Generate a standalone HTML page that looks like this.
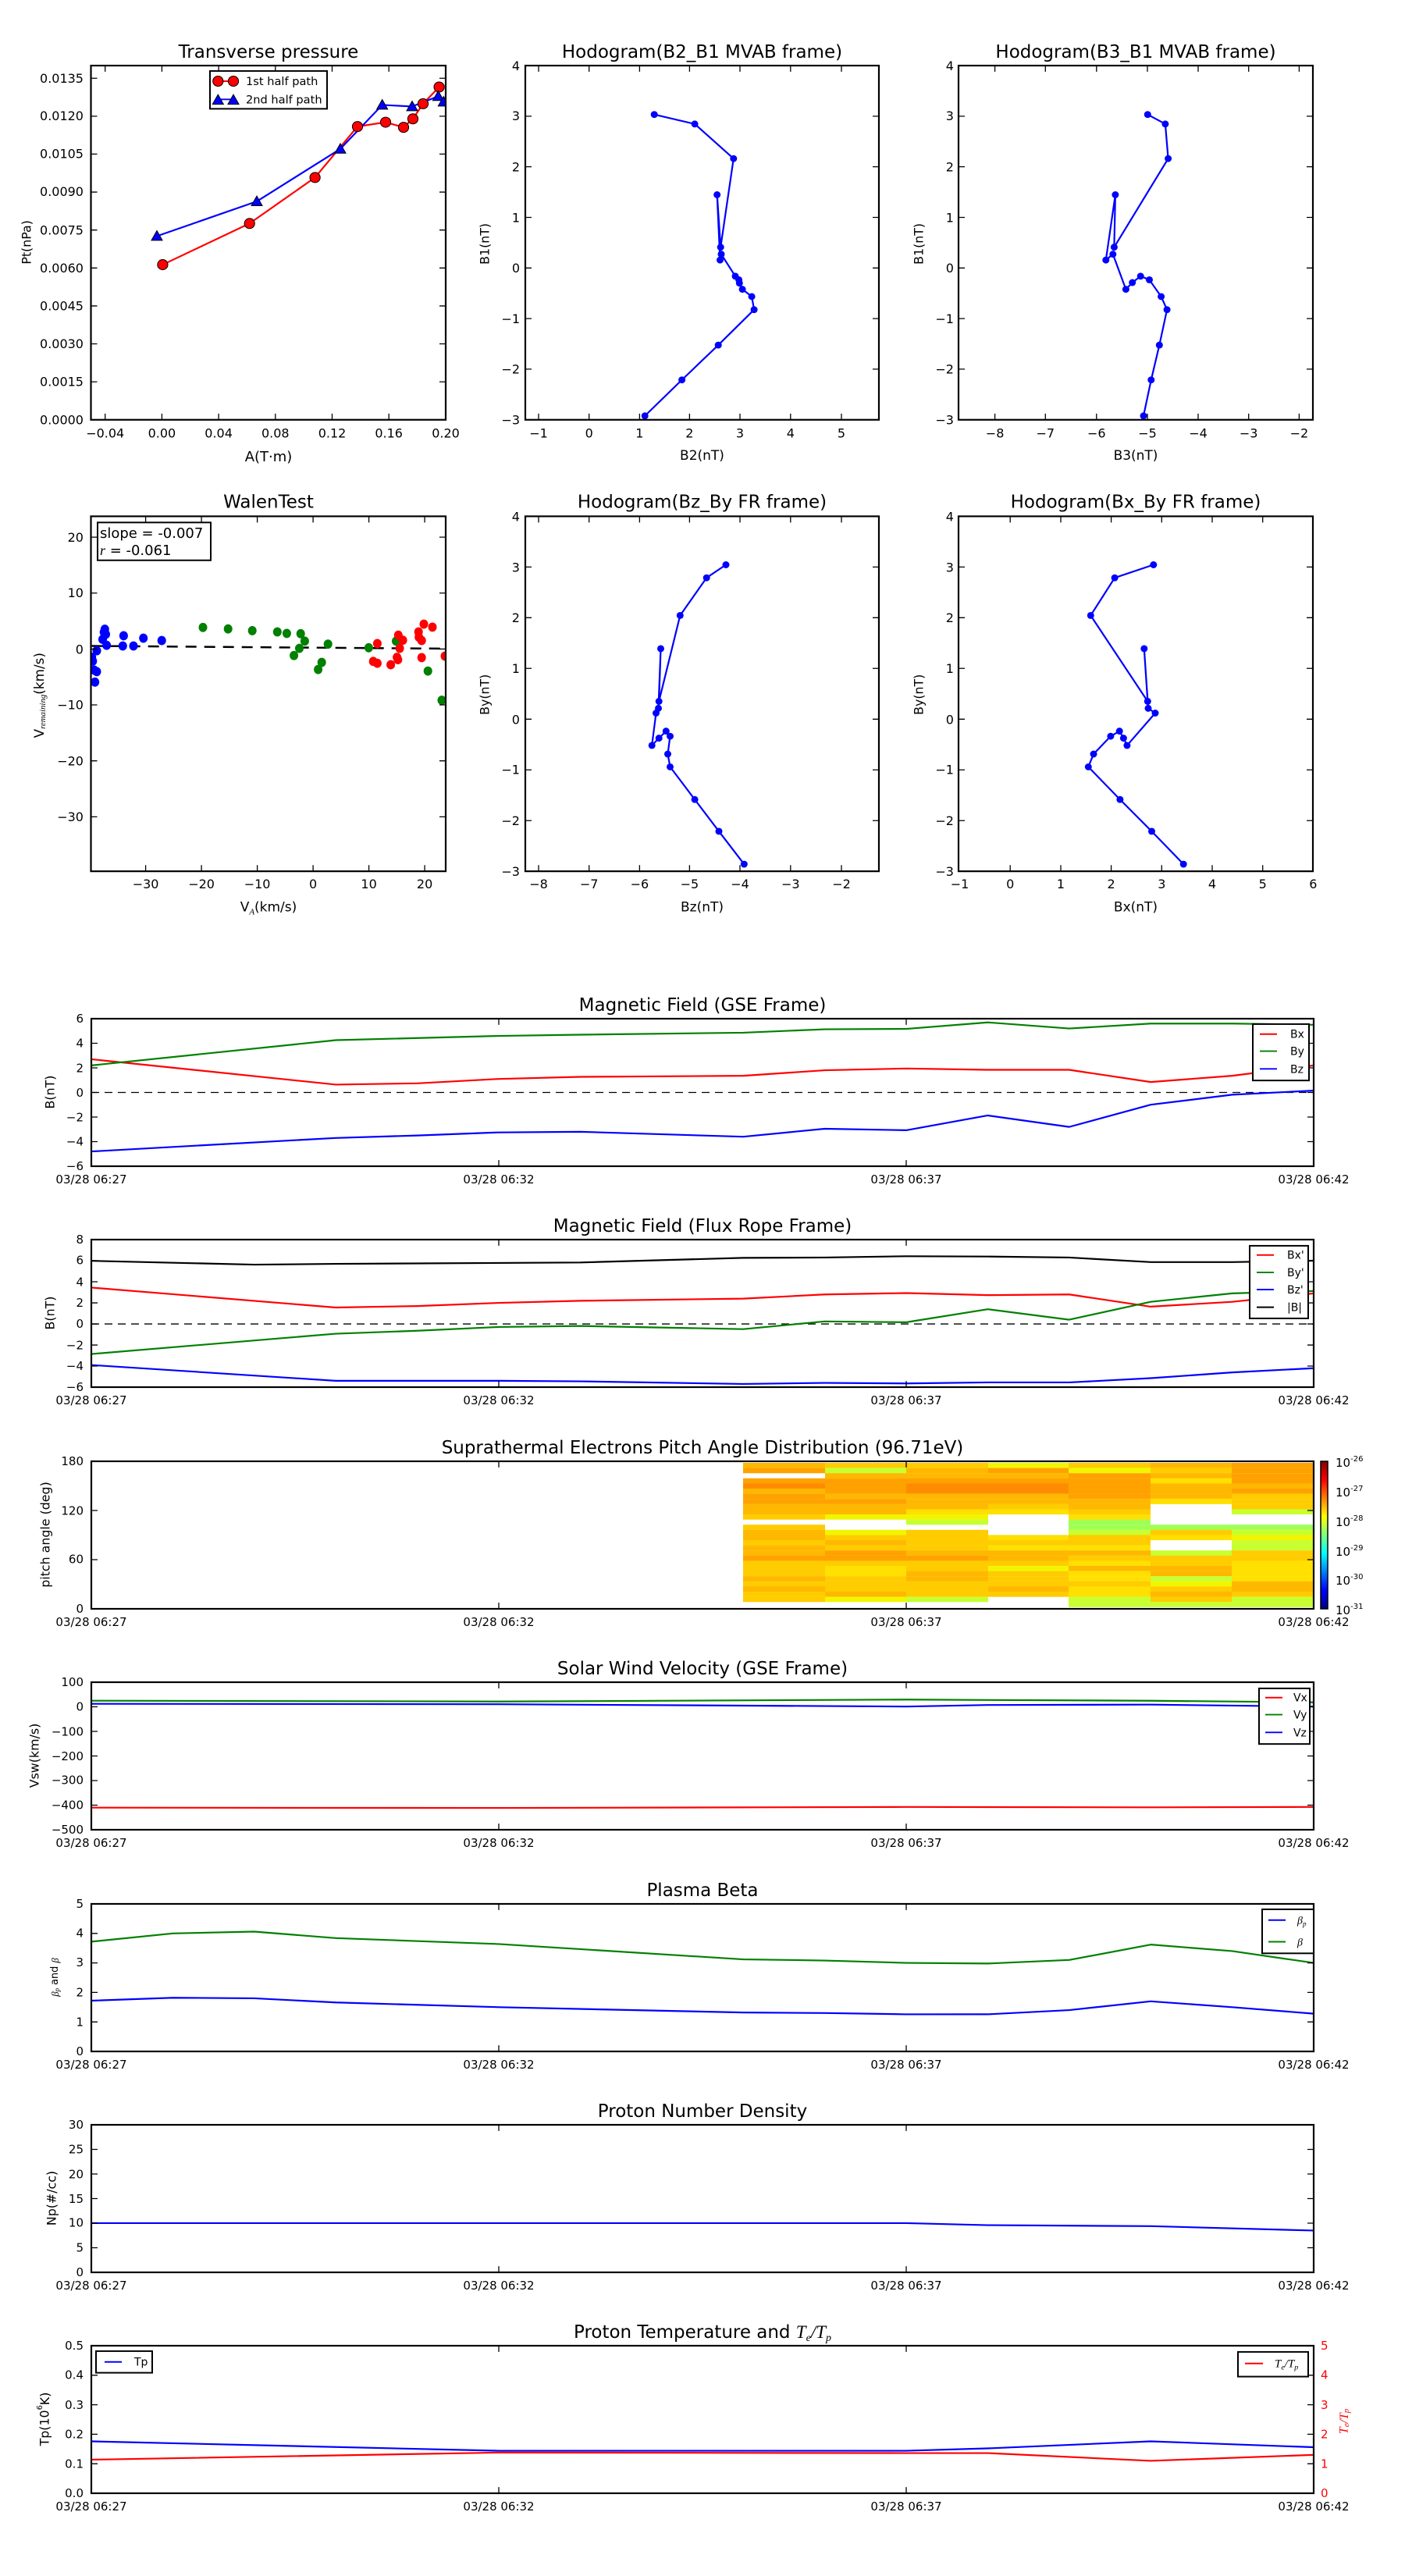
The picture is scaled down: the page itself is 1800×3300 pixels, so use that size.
<!DOCTYPE html>
<html><head><meta charset="utf-8"><style>
html,body{margin:0;padding:0;background:#fff;}
svg{display:block;font-family:"DejaVu Sans","Liberation Sans",sans-serif;}
.sp{fill:none;stroke:#000;stroke-width:2.2}
.tk{fill:none;stroke:#000;stroke-width:1.3}
.t{font-size:23px;text-anchor:middle}
.tl{font-size:16px}
.ts{font-size:15px}
.m{text-anchor:middle}
.e{text-anchor:end}
.ln{fill:none;stroke-width:2.2;stroke-linejoin:round}
.hm rect{width:105px;height:6.7px}
.a{fill:#ff8c00}.b{fill:#ffa200}.c{fill:#ffb800}.d{fill:#ffcc00}.e2{fill:#ffe000}.f{fill:#f2f500}.g{fill:#c8ff30}.h{fill:#a0ff55}
</style></head><body>
<svg width="1800" height="3300" viewBox="0 0 1800 3300" xmlns="http://www.w3.org/2000/svg">
<defs>
<path id="tri" d="M-7,5.5 L7,5.5 L0,-7 Z" fill="#0000ff" stroke="#000" stroke-width="1"/>
<clipPath id="cw"><rect x="116.5" y="662" width="454.5" height="460"/></clipPath>
<clipPath id="c1"><rect x="116.5" y="85" width="454.5" height="459"/></clipPath>
<linearGradient id="jet" x1="0" y1="1" x2="0" y2="0">
<stop offset="0" stop-color="#000080"/><stop offset="0.125" stop-color="#0000ff"/><stop offset="0.375" stop-color="#00ffff"/><stop offset="0.625" stop-color="#ffff00"/><stop offset="0.875" stop-color="#ff0000"/><stop offset="1" stop-color="#800000"/>
</linearGradient>
</defs>
<rect width="1800" height="3300" fill="#fff"/>

<!-- ROW 1 -->
<g transform="matrix(1,0,0,0.98853,0,0)">
<!-- Transverse pressure -->
<text class="t" x="344" y="75">Transverse pressure</text>
<g clip-path="url(#c1)">
<polyline class="ln" stroke="#ff0000" points="208.4,343 319.7,289.6 403.6,230 458,164 494,158.4 517,165 529,154 542,134.4 562.6,112.8"/>
<polyline class="ln" stroke="#0000ff" points="201,306 329,261 436,193 489.7,136 528,138 561.4,124.8 568.3,132"/>
<g fill="#ff0000" stroke="#000" stroke-width="1">
<circle cx="208.4" cy="343" r="6.6"/><circle cx="319.7" cy="289.6" r="6.6"/><circle cx="403.6" cy="230" r="6.6"/><circle cx="458" cy="164" r="6.6"/><circle cx="494" cy="158.4" r="6.6"/><circle cx="517" cy="165" r="6.6"/><circle cx="529" cy="154" r="6.6"/><circle cx="542" cy="134.4" r="6.6"/><circle cx="562.6" cy="112.8" r="6.6"/>
</g>
<use href="#tri" x="201" y="306"/><use href="#tri" x="329" y="261"/><use href="#tri" x="436" y="193"/><use href="#tri" x="489.7" y="136"/><use href="#tri" x="528" y="138"/><use href="#tri" x="561.4" y="124.8"/><use href="#tri" x="568.3" y="132"/>
</g>
<rect class="sp" x="116.5" y="85" width="454.5" height="459"/>
<path class="tk" d="M134.7 544v-8M207.4 544v-8M280.1 544v-8M352.8 544v-8M425.5 544v-8M498.2 544v-8M134.7 85v8M207.4 85v8M280.1 85v8M352.8 85v8M425.5 85v8M498.2 85v8M116.5 101.4h8M116.5 150.6h8M116.5 199.7h8M116.5 248.9h8M116.5 298.1h8M116.5 347.3h8M116.5 396.5h8M116.5 445.6h8M116.5 494.8h8M571 101.4h-8M571 150.6h-8M571 199.7h-8M571 248.9h-8M571 298.1h-8M571 347.3h-8M571 396.5h-8M571 445.6h-8M571 494.8h-8"/>
<g class="tl e">
<text x="107" y="107">0.0135</text><text x="107" y="156">0.0120</text><text x="107" y="205">0.0105</text><text x="107" y="254">0.0090</text><text x="107" y="304">0.0075</text><text x="107" y="353">0.0060</text><text x="107" y="402">0.0045</text><text x="107" y="451">0.0030</text><text x="107" y="500">0.0015</text><text x="107" y="550">0.0000</text>
</g>
<g class="tl m">
<text x="134.7" y="567">−0.04</text><text x="207.4" y="567">0.00</text><text x="280.1" y="567">0.04</text><text x="352.8" y="567">0.08</text><text x="425.5" y="567">0.12</text><text x="498.2" y="567">0.16</text><text x="571" y="567">0.20</text>
<text x="344" y="598" font-size="18">A(T·m)</text>
</g>
<text class="tl m" transform="translate(34,314) rotate(-90)" dominant-baseline="central">Pt(nPa)</text>
<rect x="269" y="92" width="150" height="49" fill="#fff" stroke="#000" stroke-width="2"/>
<line x1="279.3" y1="105.2" x2="299" y2="105.2" stroke="#ff0000" stroke-width="2"/>
<circle cx="279.3" cy="105.2" r="6.6" fill="#ff0000" stroke="#000"/><circle cx="299" cy="105.2" r="6.6" fill="#ff0000" stroke="#000"/>
<text x="315" y="110.5" font-size="14.6">1st half path</text>
<line x1="279.3" y1="128.8" x2="299" y2="128.8" stroke="#0000ff" stroke-width="2"/>
<use href="#tri" x="279.3" y="129.5"/><use href="#tri" x="299" y="129.5"/>
<text x="315" y="134" font-size="14.6">2nd half path</text>

<!-- Hodogram B2_B1 -->
<text class="t" x="899.5" y="75">Hodogram(B2_B1 MVAB frame)</text>
<polyline class="ln" stroke="#0000ff" stroke-width="2" points="826.2,538.9 873.6,492.3 920.2,447.2 966.1,401.3 963.1,384.3 951.1,374.9 947.3,367 946.6,362.6 942,357.9 924,329.4 922.5,337 918.7,252.4 923.2,320.3 939.8,205.5 890.1,160.7 838.2,148.4"/>
<g fill="#0000ff">
<circle cx="826.2" cy="538.9" r="4.5"/><circle cx="873.6" cy="492.3" r="4.5"/><circle cx="920.2" cy="447.2" r="4.5"/><circle cx="966.1" cy="401.3" r="4.5"/><circle cx="963.1" cy="384.3" r="4.5"/><circle cx="951.1" cy="374.9" r="4.5"/><circle cx="947.3" cy="367" r="4.5"/><circle cx="946.6" cy="362.6" r="4.5"/><circle cx="942" cy="357.9" r="4.5"/><circle cx="922.5" cy="337" r="4.5"/><circle cx="924" cy="329.4" r="4.5"/><circle cx="918.7" cy="252.4" r="4.5"/><circle cx="923.2" cy="320.3" r="4.5"/><circle cx="939.8" cy="205.5" r="4.5"/><circle cx="890.1" cy="160.7" r="4.5"/><circle cx="838.2" cy="148.4" r="4.5"/>
</g>
<rect class="sp" x="673" y="85" width="453" height="459"/>
<path class="tk" d="M690 544v-8M754.7 544v-8M819.4 544v-8M883.4 544v-8M948 544v-8M1012.8 544v-8M1078 544v-8M690 85v8M754.7 85v8M819.4 85v8M883.4 85v8M948 85v8M1012.8 85v8M1078 85v8M673 150.6h8M673 216.1h8M673 281.7h8M673 347.3h8M673 412.9h8M673 478.4h8M1126 150.6h-8M1126 216.1h-8M1126 281.7h-8M1126 347.3h-8M1126 412.9h-8M1126 478.4h-8"/>
<g class="tl e">
<text x="666" y="91">4</text><text x="666" y="156">3</text><text x="666" y="222">2</text><text x="666" y="288">1</text><text x="666" y="353">0</text><text x="666" y="419">−1</text><text x="666" y="484">−2</text><text x="666" y="550">−3</text>
</g>
<g class="tl m">
<text x="690" y="567">−1</text><text x="754.7" y="567">0</text><text x="819.4" y="567">1</text><text x="883.4" y="567">2</text><text x="948" y="567">3</text><text x="1012.8" y="567">4</text><text x="1078" y="567">5</text>
<text x="899.5" y="596" font-size="17">B2(nT)</text>
</g>
<text class="tl m" transform="translate(621,316) rotate(-90)" dominant-baseline="central">B1(nT)</text>

<!-- Hodogram B3_B1 -->
<text class="t" x="1455" y="75">Hodogram(B3_B1 MVAB frame)</text>
<polyline class="ln" stroke="#0000ff" stroke-width="2" points="1465,538.9 1474.8,492.3 1485.3,447.2 1495.1,401.3 1487.6,384.3 1472.5,362.6 1461.2,357.9 1450.7,366.2 1442.4,374.9 1425.8,329.4 1416.8,337 1428.9,252.4 1427.4,320.3 1496.6,205.5 1492.9,160.7 1470.3,148.4"/>
<g fill="#0000ff">
<circle cx="1465" cy="538.9" r="4.5"/><circle cx="1474.8" cy="492.3" r="4.5"/><circle cx="1485.3" cy="447.2" r="4.5"/><circle cx="1495.1" cy="401.3" r="4.5"/><circle cx="1487.6" cy="384.3" r="4.5"/><circle cx="1472.5" cy="362.6" r="4.5"/><circle cx="1461.2" cy="357.9" r="4.5"/><circle cx="1450.7" cy="366.2" r="4.5"/><circle cx="1442.4" cy="374.9" r="4.5"/><circle cx="1425.8" cy="329.4" r="4.5"/><circle cx="1416.8" cy="337" r="4.5"/><circle cx="1428.9" cy="252.4" r="4.5"/><circle cx="1427.4" cy="320.3" r="4.5"/><circle cx="1496.6" cy="205.5" r="4.5"/><circle cx="1492.9" cy="160.7" r="4.5"/><circle cx="1470.3" cy="148.4" r="4.5"/>
</g>
<rect class="sp" x="1228" y="85" width="454" height="459"/>
<path class="tk" d="M1274.6 544v-8M1339.3 544v-8M1404.8 544v-8M1470 544v-8M1535 544v-8M1599.7 544v-8M1664.4 544v-8M1274.6 85v8M1339.3 85v8M1404.8 85v8M1470 85v8M1535 85v8M1599.7 85v8M1664.4 85v8M1228 150.6h8M1228 216.1h8M1228 281.7h8M1228 347.3h8M1228 412.9h8M1228 478.4h8M1682 150.6h-8M1682 216.1h-8M1682 281.7h-8M1682 347.3h-8M1682 412.9h-8M1682 478.4h-8"/>
<g class="tl e">
<text x="1222" y="91">4</text><text x="1222" y="156">3</text><text x="1222" y="222">2</text><text x="1222" y="288">1</text><text x="1222" y="353">0</text><text x="1222" y="419">−1</text><text x="1222" y="484">−2</text><text x="1222" y="550">−3</text>
</g>
<g class="tl m">
<text x="1274.6" y="567">−8</text><text x="1339.3" y="567">−7</text><text x="1404.8" y="567">−6</text><text x="1470" y="567">−5</text><text x="1535" y="567">−4</text><text x="1599.7" y="567">−3</text><text x="1664.4" y="567">−2</text>
<text x="1455" y="596" font-size="17">B3(nT)</text>
</g>
<text class="tl m" transform="translate(1177,316) rotate(-90)" dominant-baseline="central">B1(nT)</text>
</g>

<!-- ROW 2 -->
<g transform="matrix(1,0,0,0.98855,0,7)">
<!-- Walen -->
<text class="t" x="344" y="651">WalenTest</text>
<g clip-path="url(#cw)">
<line x1="117.7" y1="830" x2="571" y2="833.5" stroke="#000" stroke-width="2.5" stroke-dasharray="14,10"/>
<g fill="#0000ff">
<ellipse cx="117.7" cy="844.7" rx="5.5" ry="6"/><ellipse cx="118.8" cy="849.7" rx="5.5" ry="6"/><ellipse cx="120.6" cy="861.3" rx="5.5" ry="6"/><ellipse cx="124" cy="863.3" rx="5.5" ry="6"/><ellipse cx="121.7" cy="876.8" rx="5.5" ry="6"/><ellipse cx="124" cy="836.2" rx="5.5" ry="6"/><ellipse cx="131.5" cy="821.5" rx="5.5" ry="6"/><ellipse cx="133.2" cy="812.2" rx="5.5" ry="6"/><ellipse cx="134.3" cy="808.3" rx="5.5" ry="6"/><ellipse cx="135.5" cy="814.9" rx="5.5" ry="6"/><ellipse cx="136.6" cy="829.2" rx="5.5" ry="6"/><ellipse cx="158.4" cy="816.8" rx="5.5" ry="6"/><ellipse cx="157.3" cy="830" rx="5.5" ry="6"/><ellipse cx="171" cy="830" rx="5.5" ry="6"/><ellipse cx="183.7" cy="819.9" rx="5.5" ry="6"/><ellipse cx="207.2" cy="823" rx="5.5" ry="6"/>
</g>
<g fill="#008000">
<ellipse cx="260" cy="806" rx="5.5" ry="6"/><ellipse cx="292.2" cy="807.9" rx="5.5" ry="6"/><ellipse cx="323.2" cy="810.2" rx="5.5" ry="6"/><ellipse cx="355.3" cy="811.8" rx="5.5" ry="6"/><ellipse cx="367.4" cy="813.7" rx="5.5" ry="6"/><ellipse cx="385.2" cy="814.1" rx="5.5" ry="6"/><ellipse cx="390.4" cy="823.8" rx="5.5" ry="6"/><ellipse cx="383.5" cy="833.1" rx="5.5" ry="6"/><ellipse cx="376.6" cy="842.4" rx="5.5" ry="6"/><ellipse cx="412.2" cy="851.3" rx="5.5" ry="6"/><ellipse cx="407.6" cy="860.5" rx="5.5" ry="6"/><ellipse cx="420.2" cy="827.6" rx="5.5" ry="6"/><ellipse cx="472.4" cy="832.3" rx="5.5" ry="6"/><ellipse cx="507.5" cy="823.8" rx="5.5" ry="6"/><ellipse cx="548.2" cy="862.5" rx="5.5" ry="6"/><ellipse cx="566" cy="900.4" rx="5.5" ry="6"/>
</g>
<g fill="#ff0000">
<ellipse cx="483.4" cy="826.9" rx="5.5" ry="6"/><ellipse cx="478.2" cy="850.1" rx="5.5" ry="6"/><ellipse cx="483.4" cy="852.4" rx="5.5" ry="6"/><ellipse cx="500.6" cy="854.4" rx="5.5" ry="6"/><ellipse cx="510.3" cy="816" rx="5.5" ry="6"/><ellipse cx="516.1" cy="822.6" rx="5.5" ry="6"/><ellipse cx="512.1" cy="833.1" rx="5.5" ry="6"/><ellipse cx="508.6" cy="844.7" rx="5.5" ry="6"/><ellipse cx="509.8" cy="847.8" rx="5.5" ry="6"/><ellipse cx="536.2" cy="811.8" rx="5.5" ry="6"/><ellipse cx="536.7" cy="818.7" rx="5.5" ry="6"/><ellipse cx="540.2" cy="823" rx="5.5" ry="6"/><ellipse cx="543" cy="801.7" rx="5.5" ry="6"/><ellipse cx="554" cy="805.6" rx="5.5" ry="6"/><ellipse cx="540.2" cy="845.1" rx="5.5" ry="6"/><ellipse cx="570" cy="843.2" rx="5.5" ry="6"/>
</g>
</g>
<rect class="sp" x="116.5" y="662" width="454.5" height="460"/>
<path class="tk" d="M186.6 1122v-8M258.1 1122v-8M329.6 1122v-8M401.1 1122v-8M472.6 1122v-8M544.1 1122v-8M186.6 662v8M258.1 662v8M329.6 662v8M401.1 662v8M472.6 662v8M544.1 662v8M116.5 689h8M116.5 761.5h8M116.5 834h8M116.5 906.4h8M116.5 978.9h8M116.5 1051.4h8M571 689h-8M571 761.5h-8M571 834h-8M571 906.4h-8M571 978.9h-8M571 1051.4h-8"/>
<g class="tl e">
<text x="107" y="695">20</text><text x="107" y="767">10</text><text x="107" y="840">0</text><text x="107" y="912">−10</text><text x="107" y="985">−20</text><text x="107" y="1057">−30</text>
</g>
<g class="tl m">
<text x="186.6" y="1144">−30</text><text x="258.1" y="1144">−20</text><text x="329.6" y="1144">−10</text><text x="401.1" y="1144">0</text><text x="472.6" y="1144">10</text><text x="544.1" y="1144">20</text>
<text x="344" y="1174" font-size="17">V<tspan font-size="11" font-style="italic" font-family="Liberation Serif,serif" dy="4">A</tspan><tspan dy="-4">(km/s)</tspan></text>
</g>
<text class="m" font-size="17" transform="translate(50,894) rotate(-90)" dominant-baseline="central">V<tspan font-size="11" font-style="italic" font-family="Liberation Serif,serif" dy="5">remaining</tspan><tspan dy="-5">(km/s)</tspan></text>
<rect x="125" y="670" width="145" height="49" fill="#fff" stroke="#000" stroke-width="2"/>
<text x="128" y="690" font-size="18">slope = -0.007</text>
<text x="128" y="712" font-size="18"><tspan font-style="italic" font-family="Liberation Serif,serif">r</tspan> = -0.061</text>

<!-- Hodogram Bz_By -->
<text class="t" x="899.5" y="651">Hodogram(Bz_By FR frame)</text>
<polyline class="ln" stroke="#0000ff" stroke-width="2" points="953.3,1112.8 921,1070.2 890.1,1029 858.5,986.7 855.5,970.1 858.5,947 853.3,940.4 844.2,949.5 835.2,958.9 840.5,917 843.5,910.8 846.5,833.5 844.2,901.8 871.3,790.5 905.2,741.7 930,724.8"/>
<g fill="#0000ff">
<circle cx="953.3" cy="1112.8" r="4.5"/><circle cx="921" cy="1070.2" r="4.5"/><circle cx="890.1" cy="1029" r="4.5"/><circle cx="858.5" cy="986.7" r="4.5"/><circle cx="855.5" cy="970.1" r="4.5"/><circle cx="858.5" cy="947" r="4.5"/><circle cx="853.3" cy="940.4" r="4.5"/><circle cx="844.2" cy="949.5" r="4.5"/><circle cx="835.2" cy="958.9" r="4.5"/><circle cx="840.5" cy="917" r="4.5"/><circle cx="843.5" cy="910.8" r="4.5"/><circle cx="846.5" cy="833.5" r="4.5"/><circle cx="844.2" cy="901.8" r="4.5"/><circle cx="871.3" cy="790.5" r="4.5"/><circle cx="905.2" cy="741.7" r="4.5"/><circle cx="930" cy="724.8" r="4.5"/>
</g>
<rect class="sp" x="673" y="662" width="453" height="460"/>
<path class="tk" d="M690 1122v-8M754.7 1122v-8M819.4 1122v-8M883.4 1122v-8M948 1122v-8M1012.8 1122v-8M1078 1122v-8M690 662v8M754.7 662v8M819.4 662v8M883.4 662v8M948 662v8M1012.8 662v8M1078 662v8M673 727.7h8M673 793.4h8M673 859.1h8M673 924.9h8M673 990.6h8M673 1056.3h8M1126 727.7h-8M1126 793.4h-8M1126 859.1h-8M1126 924.9h-8M1126 990.6h-8M1126 1056.3h-8"/>
<g class="tl e">
<text x="666" y="668">4</text><text x="666" y="734">3</text><text x="666" y="799">2</text><text x="666" y="865">1</text><text x="666" y="931">0</text><text x="666" y="996">−1</text><text x="666" y="1062">−2</text><text x="666" y="1128">−3</text>
</g>
<g class="tl m">
<text x="690" y="1144">−8</text><text x="754.7" y="1144">−7</text><text x="819.4" y="1144">−6</text><text x="883.4" y="1144">−5</text><text x="948" y="1144">−4</text><text x="1012.8" y="1144">−3</text><text x="1078" y="1144">−2</text>
<text x="899.5" y="1174" font-size="17">Bz(nT)</text>
</g>
<text class="tl m" transform="translate(621,893) rotate(-90)" dominant-baseline="central">By(nT)</text>

<!-- Hodogram Bx_By -->
<text class="t" x="1455" y="651">Hodogram(Bx_By FR frame)</text>
<polyline class="ln" stroke="#0000ff" stroke-width="2" points="1516.2,1112.8 1475.5,1070.2 1434.9,1029 1394.3,986.7 1401,970.1 1422.9,947 1434.2,940.4 1439.4,949.5 1443.9,958.9 1480,917 1471,910.8 1465.8,833.5 1470.3,901.8 1397.3,790.5 1428.1,741.7 1477.8,724.8"/>
<g fill="#0000ff">
<circle cx="1516.2" cy="1112.8" r="4.5"/><circle cx="1475.5" cy="1070.2" r="4.5"/><circle cx="1434.9" cy="1029" r="4.5"/><circle cx="1394.3" cy="986.7" r="4.5"/><circle cx="1401" cy="970.1" r="4.5"/><circle cx="1422.9" cy="947" r="4.5"/><circle cx="1434.2" cy="940.4" r="4.5"/><circle cx="1439.4" cy="949.5" r="4.5"/><circle cx="1443.9" cy="958.9" r="4.5"/><circle cx="1480" cy="917" r="4.5"/><circle cx="1471" cy="910.8" r="4.5"/><circle cx="1465.8" cy="833.5" r="4.5"/><circle cx="1470.3" cy="901.8" r="4.5"/><circle cx="1397.3" cy="790.5" r="4.5"/><circle cx="1428.1" cy="741.7" r="4.5"/><circle cx="1477.8" cy="724.8" r="4.5"/>
</g>
<rect class="sp" x="1228" y="662" width="454" height="460"/>
<path class="tk" d="M1294.2 1122v-8M1359 1122v-8M1423.6 1122v-8M1488.3 1122v-8M1553 1122v-8M1617.7 1122v-8M1294.2 662v8M1359 662v8M1423.6 662v8M1488.3 662v8M1553 662v8M1617.7 662v8M1228 727.7h8M1228 793.4h8M1228 859.1h8M1228 924.9h8M1228 990.6h8M1228 1056.3h8M1682 727.7h-8M1682 793.4h-8M1682 859.1h-8M1682 924.9h-8M1682 990.6h-8M1682 1056.3h-8"/>
<g class="tl e">
<text x="1222" y="668">4</text><text x="1222" y="734">3</text><text x="1222" y="799">2</text><text x="1222" y="865">1</text><text x="1222" y="931">0</text><text x="1222" y="996">−1</text><text x="1222" y="1062">−2</text><text x="1222" y="1128">−3</text>
</g>
<g class="tl m">
<text x="1229.5" y="1144">−1</text><text x="1294.2" y="1144">0</text><text x="1359" y="1144">1</text><text x="1423.6" y="1144">2</text><text x="1488.3" y="1144">3</text><text x="1553" y="1144">4</text><text x="1617.7" y="1144">5</text><text x="1682.4" y="1144">6</text>
<text x="1455" y="1174" font-size="17">Bx(nT)</text>
</g>
<text class="tl m" transform="translate(1177,893) rotate(-90)" dominant-baseline="central">By(nT)</text>
</g>

<!-- GSE -->
<g transform="matrix(1,0,0,0.98953,0,13.66)">
<text class="t" x="900" y="1295">Magnetic Field (GSE Frame)</text>
<line x1="117" y1="1400.5" x2="1683" y2="1400.5" stroke="#000" stroke-width="1.3" stroke-dasharray="10,7"/>
<polyline class="ln" stroke="#ff0000" points="117,1357.5 430.2,1390.3 534.6,1388.7 639,1383 743.4,1380.3 952.2,1378.9 1056.6,1371.8 1161,1369.5 1265.4,1371.2 1369.8,1371.2 1474.2,1387 1578.6,1378.9 1683,1365.5"/>
<polyline class="ln" stroke="#008000" points="117,1365.5 430.2,1332.8 639,1327.3 743.4,1325.7 952.2,1323.1 1056.6,1318.7 1161,1318.2 1265.4,1309.8 1369.8,1317.7 1474.2,1311.3 1578.6,1311.3 1683,1312.9"/>
<polyline class="ln" stroke="#0000ff" points="117,1476.9 430.2,1459.4 534.6,1456.2 639,1452.2 743.4,1451.4 952.2,1457.8 1056.6,1447.5 1161,1449.4 1265.4,1430.3 1369.8,1445.1 1474.2,1416.4 1578.6,1403.4 1683,1398.1"/>
<rect class="sp" x="117" y="1305" width="1566" height="191"/>
<path class="tk" d="M639 1496v-8M1161 1496v-8M639 1305v8M1161 1305v8M117 1336.8h8M117 1368.7h8M117 1400.5h8M117 1432.3h8M117 1464.2h8M1683 1336.8h-8M1683 1368.7h-8M1683 1400.5h-8M1683 1432.3h-8M1683 1464.2h-8"/>
<g class="ts e"><text x="107" y="1310">6</text><text x="107" y="1342">4</text><text x="107" y="1374">2</text><text x="107" y="1406">0</text><text x="107" y="1438">−2</text><text x="107" y="1469">−4</text><text x="107" y="1501">−6</text></g>
<g class="ts m"><text x="117" y="1518">03/28 06:27</text><text x="639" y="1518">03/28 06:32</text><text x="1161" y="1518">03/28 06:37</text><text x="1683" y="1518">03/28 06:42</text></g>
<text class="tl m" transform="translate(64,1400) rotate(-90)" dominant-baseline="central">B(nT)</text>
<rect x="1605" y="1312" width="72" height="73" fill="#fff" stroke="#000" stroke-width="2"/>
<line x1="1614" y1="1325" x2="1636" y2="1325" stroke="#ff0000" stroke-width="2"/><text x="1653" y="1330" font-size="14">Bx</text>
<line x1="1614" y1="1347" x2="1636" y2="1347" stroke="#008000" stroke-width="2"/><text x="1653" y="1352" font-size="14">By</text>
<line x1="1614" y1="1370" x2="1636" y2="1370" stroke="#0000ff" stroke-width="2"/><text x="1653" y="1375" font-size="14">Bz</text>
</g>

<!-- FR -->
<g transform="matrix(1,0,0,0.98953,0,12.67)">
<text class="t" x="900" y="1582">Magnetic Field (Flux Rope Frame)</text>
<line x1="117" y1="1701.2" x2="1683" y2="1701.2" stroke="#000" stroke-width="1.3" stroke-dasharray="10,7"/>
<polyline class="ln" stroke="#000" points="117,1619.5 325.8,1624.4 430.2,1623.4 743.4,1621.6 952.2,1615.6 1056.6,1615.2 1161,1613.5 1265.4,1613.9 1369.8,1615.2 1474.2,1621.1 1578.6,1621.1 1683,1619.3"/>
<polyline class="ln" stroke="#ff0000" points="117,1654.1 430.2,1679.9 534.6,1678 639,1673.9 743.4,1671.2 952.2,1668.4 1056.6,1663 1161,1661.2 1265.4,1663.9 1369.8,1663 1474.2,1678.8 1578.6,1672.5 1683,1661.6"/>
<polyline class="ln" stroke="#008000" points="117,1740.1 430.2,1713.8 534.6,1710 639,1705.1 743.4,1703.8 952.2,1707.9 1056.6,1697.9 1161,1699 1265.4,1682.1 1369.8,1695.7 1474.2,1672.5 1578.6,1661.6 1683,1658.5"/>
<polyline class="ln" stroke="#0000ff" points="117,1754.4 430.2,1774.8 639,1774.8 743.4,1775.5 952.2,1778.9 1056.6,1777.5 1161,1778.2 1265.4,1776.9 1369.8,1776.9 1474.2,1771.4 1578.6,1763.9 1683,1758.5"/>
<rect class="sp" x="117" y="1592" width="1566" height="191"/>
<path class="tk" d="M639 1783v-8M1161 1783v-8M639 1592v8M1161 1592v8M117 1619.3h8M117 1646.6h8M117 1673.9h8M117 1701.2h8M117 1728.5h8M117 1755.7h8M1683 1619.3h-8M1683 1646.6h-8M1683 1673.9h-8M1683 1701.2h-8M1683 1728.5h-8M1683 1755.7h-8"/>
<g class="ts e"><text x="107" y="1597">8</text><text x="107" y="1624">6</text><text x="107" y="1652">4</text><text x="107" y="1679">2</text><text x="107" y="1706">0</text><text x="107" y="1734">−2</text><text x="107" y="1761">−4</text><text x="107" y="1788">−6</text></g>
<g class="ts m"><text x="117" y="1805">03/28 06:27</text><text x="639" y="1805">03/28 06:32</text><text x="1161" y="1805">03/28 06:37</text><text x="1683" y="1805">03/28 06:42</text></g>
<text class="tl m" transform="translate(64,1687) rotate(-90)" dominant-baseline="central">B(nT)</text>
<rect x="1601" y="1600" width="75" height="94" fill="#fff" stroke="#000" stroke-width="2"/>
<line x1="1610" y1="1612" x2="1632" y2="1612" stroke="#ff0000" stroke-width="2"/><text x="1649" y="1617" font-size="14">Bx'</text>
<line x1="1610" y1="1634.5" x2="1632" y2="1634.5" stroke="#008000" stroke-width="2"/><text x="1649" y="1639.5" font-size="14">By'</text>
<line x1="1610" y1="1656.7" x2="1632" y2="1656.7" stroke="#0000ff" stroke-width="2"/><text x="1649" y="1661.7" font-size="14">Bz'</text>
<line x1="1610" y1="1679.5" x2="1632" y2="1679.5" stroke="#000" stroke-width="2"/><text x="1649" y="1684.5" font-size="14">|B|</text>
</g>

<!-- PAD heatmap (real coords) -->
<g class="hm">
<g transform="translate(952,0)"><rect y="1874" class="c"/><rect y="1880.6" class="b"/><rect y="1893.8" class="b"/><rect y="1900.4" class="a"/><rect y="1907" class="c"/><rect y="1913.6" class="b"/><rect y="1920.2" class="b"/><rect y="1926.8" class="c"/><rect y="1933.4" class="c"/><rect y="1940" class="d"/><rect y="1953.2" class="d"/><rect y="1959.8" class="c"/><rect y="1966.4" class="c"/><rect y="1973" class="d"/><rect y="1979.6" class="c"/><rect y="1986.2" class="c"/><rect y="1992.8" class="b"/><rect y="1999.4" class="d"/><rect y="2006" class="d"/><rect y="2012.6" class="d"/><rect y="2019.2" class="c"/><rect y="2025.8" class="d"/><rect y="2032.4" class="c"/><rect y="2039" class="d"/><rect y="2045.6" class="d"/></g>
<g transform="translate(1057,0)"><rect y="1874" class="d"/><rect y="1880.6" class="g"/><rect y="1887.2" class="c"/><rect y="1893.8" class="b"/><rect y="1900.4" class="b"/><rect y="1907" class="b"/><rect y="1913.6" class="c"/><rect y="1920.2" class="b"/><rect y="1926.8" class="c"/><rect y="1933.4" class="c"/><rect y="1940" class="f"/><rect y="1959.8" class="f"/><rect y="1966.4" class="d"/><rect y="1973" class="c"/><rect y="1979.6" class="d"/><rect y="1986.2" class="b"/><rect y="1992.8" class="b"/><rect y="1999.4" class="d"/><rect y="2006" class="e2"/><rect y="2012.6" class="e2"/><rect y="2019.2" class="d"/><rect y="2025.8" class="d"/><rect y="2032.4" class="d"/><rect y="2039" class="c"/><rect y="2045.6" class="f"/></g>
<g transform="translate(1161,0)"><rect y="1874" class="d"/><rect y="1880.6" class="c"/><rect y="1887.2" class="c"/><rect y="1893.8" class="b"/><rect y="1900.4" class="a"/><rect y="1907" class="a"/><rect y="1913.6" class="c"/><rect y="1920.2" class="c"/><rect y="1926.8" class="c"/><rect y="1933.4" class="e2"/><rect y="1940" class="f"/><rect y="1946.6" class="g"/><rect y="1959.8" class="d"/><rect y="1966.4" class="d"/><rect y="1973" class="d"/><rect y="1979.6" class="d"/><rect y="1986.2" class="c"/><rect y="1992.8" class="b"/><rect y="1999.4" class="d"/><rect y="2006" class="d"/><rect y="2012.6" class="c"/><rect y="2019.2" class="c"/><rect y="2025.8" class="d"/><rect y="2032.4" class="d"/><rect y="2039" class="d"/><rect y="2045.6" class="g"/></g>
<g transform="translate(1266,0)"><rect y="1874" class="f"/><rect y="1880.6" class="b"/><rect y="1887.2" class="c"/><rect y="1893.8" class="b"/><rect y="1900.4" class="a"/><rect y="1907" class="a"/><rect y="1913.6" class="c"/><rect y="1920.2" class="c"/><rect y="1926.8" class="d"/><rect y="1933.4" class="e2"/><rect y="1966.4" class="e2"/><rect y="1973" class="d"/><rect y="1979.6" class="e2"/><rect y="1986.2" class="c"/><rect y="1992.8" class="c"/><rect y="1999.4" class="d"/><rect y="2006" class="f"/><rect y="2012.6" class="d"/><rect y="2019.2" class="d"/><rect y="2025.8" class="d"/><rect y="2032.4" class="c"/><rect y="2039" class="d"/></g>
<g transform="translate(1369,0)"><rect y="1874" class="d"/><rect y="1880.6" class="f"/><rect y="1887.2" class="b"/><rect y="1893.8" class="b"/><rect y="1900.4" class="b"/><rect y="1907" class="b"/><rect y="1913.6" class="b"/><rect y="1920.2" class="c"/><rect y="1926.8" class="c"/><rect y="1933.4" class="d"/><rect y="1940" class="e2"/><rect y="1946.6" class="h"/><rect y="1953.2" class="h"/><rect y="1959.8" class="g"/><rect y="1966.4" class="d"/><rect y="1973" class="d"/><rect y="1979.6" class="e2"/><rect y="1986.2" class="c"/><rect y="1992.8" class="d"/><rect y="1999.4" class="e2"/><rect y="2006" class="c"/><rect y="2012.6" class="e2"/><rect y="2019.2" class="e2"/><rect y="2025.8" class="d"/><rect y="2032.4" class="e2"/><rect y="2039" class="e2"/><rect y="2045.6" class="g"/><rect y="2052.2" class="g"/></g>
<g transform="translate(1474,0)"><rect y="1874" class="c"/><rect y="1880.6" class="d"/><rect y="1887.2" class="c"/><rect y="1893.8" class="e2"/><rect y="1900.4" class="c"/><rect y="1907" class="c"/><rect y="1913.6" class="c"/><rect y="1920.2" class="e2"/><rect y="1953.2" class="h"/><rect y="1959.8" class="d"/><rect y="1966.4" class="e2"/><rect y="1986.2" class="g"/><rect y="1992.8" class="d"/><rect y="1999.4" class="d"/><rect y="2006" class="c"/><rect y="2012.6" class="c"/><rect y="2019.2" class="g"/><rect y="2025.8" class="f"/><rect y="2032.4" class="d"/><rect y="2039" class="c"/><rect y="2045.6" class="d"/><rect y="2052.2" class="g"/></g>
<g transform="translate(1578,0)"><rect y="1874" class="b" style="width:104px"/><rect y="1880.6" class="b" style="width:104px"/><rect y="1887.2" class="b" style="width:104px"/><rect y="1893.8" class="b" style="width:104px"/><rect y="1900.4" class="c" style="width:104px"/><rect y="1907" class="b" style="width:104px"/><rect y="1913.6" class="d" style="width:104px"/><rect y="1920.2" class="d" style="width:104px"/><rect y="1926.8" class="d" style="width:104px"/><rect y="1933.4" class="g" style="width:104px"/><rect y="1953.2" class="h" style="width:104px"/><rect y="1959.8" class="g" style="width:104px"/><rect y="1966.4" class="f" style="width:104px"/><rect y="1973" class="g" style="width:104px"/><rect y="1979.6" class="g" style="width:104px"/><rect y="1986.2" class="d" style="width:104px"/><rect y="1992.8" class="d" style="width:104px"/><rect y="1999.4" class="e2" style="width:104px"/><rect y="2006" class="e2" style="width:104px"/><rect y="2012.6" class="e2" style="width:104px"/><rect y="2019.2" class="e2" style="width:104px"/><rect y="2025.8" class="c" style="width:104px"/><rect y="2032.4" class="c" style="width:104px"/><rect y="2039" class="d" style="width:104px"/><rect y="2045.6" class="g" style="width:104px"/><rect y="2052.2" class="g" style="width:104px"/></g>
</g>
<rect x="1692" y="1872" width="9" height="189" fill="url(#jet)" stroke="#000" stroke-width="1.5"/>
<g font-size="15">
<text x="1711" y="1879">10<tspan font-size="10" dy="-7">-26</tspan></text>
<text x="1711" y="1917">10<tspan font-size="10" dy="-7">-27</tspan></text>
<text x="1711" y="1955">10<tspan font-size="10" dy="-7">-28</tspan></text>
<text x="1711" y="1993">10<tspan font-size="10" dy="-7">-29</tspan></text>
<text x="1711" y="2030">10<tspan font-size="10" dy="-7">-30</tspan></text>
<text x="1711" y="2068">10<tspan font-size="10" dy="-7">-31</tspan></text>
</g>
<g transform="matrix(1,0,0,0.98953,0,12.67)">
<text class="t" x="900" y="1869">Suprathermal Electrons Pitch Angle Distribution (96.71eV)</text>
<rect class="sp" x="117" y="1879" width="1566" height="191"/>
<path class="tk" d="M639 2070v-8M1161 2070v-8M639 1879v8M1161 1879v8M117 1942.7h8M117 2006.3h8M1683 1942.7h-8M1683 2006.3h-8"/>
<g class="ts e"><text x="107" y="1884">180</text><text x="107" y="1948">120</text><text x="107" y="2011">60</text><text x="107" y="2075">0</text></g>
<g class="ts m"><text x="117" y="2092">03/28 06:27</text><text x="639" y="2092">03/28 06:32</text><text x="1161" y="2092">03/28 06:37</text><text x="1683" y="2092">03/28 06:42</text></g>
<text class="tl m" transform="translate(58,1974) rotate(-90)" dominant-baseline="central">pitch angle (deg)</text>
</g>

<!-- SW -->
<g transform="matrix(1,0,0,0.98953,0,11.68)">
<text class="t" x="900" y="2156">Solar Wind Velocity (GSE Frame)</text>
<polyline class="ln" stroke="#ff0000" points="117,2328.4 639,2328.8 1161,2327.5 1474.2,2328 1683,2327.5"/>
<polyline class="ln" stroke="#008000" points="117,2189.9 639,2191 1161,2188.5 1474.2,2190 1683,2192"/>
<polyline class="ln" stroke="#0000ff" points="117,2194 639,2194.5 1161,2197.5 1265.4,2195.5 1474.2,2195 1683,2197.5"/>
<rect class="sp" x="117" y="2166" width="1566" height="191"/>
<path class="tk" d="M639 2357v-8M1161 2357v-8M639 2166v8M1161 2166v8M117 2197.8h8M117 2229.7h8M117 2261.5h8M117 2293.3h8M117 2325.2h8M1683 2197.8h-8M1683 2229.7h-8M1683 2261.5h-8M1683 2293.3h-8M1683 2325.2h-8"/>
<g class="ts e"><text x="107" y="2171">100</text><text x="107" y="2203">0</text><text x="107" y="2235">−100</text><text x="107" y="2267">−200</text><text x="107" y="2298">−300</text><text x="107" y="2330">−400</text><text x="107" y="2362">−500</text></g>
<g class="ts m"><text x="117" y="2379">03/28 06:27</text><text x="639" y="2379">03/28 06:32</text><text x="1161" y="2379">03/28 06:37</text><text x="1683" y="2379">03/28 06:42</text></g>
<text class="tl m" transform="translate(44,2261) rotate(-90)" dominant-baseline="central">Vsw(km/s)</text>
<rect x="1613" y="2174" width="65" height="72" fill="#fff" stroke="#000" stroke-width="2"/>
<line x1="1621" y1="2186" x2="1643" y2="2186" stroke="#ff0000" stroke-width="2"/><text x="1657" y="2191" font-size="14">Vx</text>
<line x1="1621" y1="2208" x2="1643" y2="2208" stroke="#008000" stroke-width="2"/><text x="1657" y="2213" font-size="14">Vy</text>
<line x1="1621" y1="2231" x2="1643" y2="2231" stroke="#0000ff" stroke-width="2"/><text x="1657" y="2236" font-size="14">Vz</text>
</g>

<!-- Beta -->
<g transform="matrix(1,0,0,0.98953,0,11.68)">
<text class="t" x="900" y="2443">Plasma Beta</text>
<polyline class="ln" stroke="#008000" points="117,2501.9 221.4,2491.2 325.8,2488.9 430.2,2497.3 639,2505 952.2,2524.8 1056.6,2526.3 1161,2529.4 1265.4,2530.2 1369.8,2525.6 1474.2,2505.7 1578.6,2514.1 1683,2529.4"/>
<polyline class="ln" stroke="#0000ff" points="117,2578.3 221.4,2574.5 325.8,2575.2 430.2,2580.6 639,2586.7 952.2,2593.6 1056.6,2594.3 1161,2595.9 1265.4,2595.9 1369.8,2590.5 1474.2,2579.1 1578.6,2586.7 1683,2595.1"/>
<rect class="sp" x="117" y="2453" width="1566" height="191"/>
<path class="tk" d="M639 2644v-8M1161 2644v-8M639 2453v8M1161 2453v8M117 2491.2h8M117 2529.4h8M117 2567.6h8M117 2605.8h8M1683 2491.2h-8M1683 2529.4h-8M1683 2567.6h-8M1683 2605.8h-8"/>
<g class="ts e"><text x="107" y="2458">5</text><text x="107" y="2496">4</text><text x="107" y="2534">3</text><text x="107" y="2573">2</text><text x="107" y="2611">1</text><text x="107" y="2649">0</text></g>
<g class="ts m"><text x="117" y="2666">03/28 06:27</text><text x="639" y="2666">03/28 06:32</text><text x="1161" y="2666">03/28 06:37</text><text x="1683" y="2666">03/28 06:42</text></g>
<text class="m" font-size="13" transform="translate(70,2548) rotate(-90)" dominant-baseline="central"><tspan font-style="italic" font-family="Liberation Serif,serif">β<tspan font-size="9" dy="3">p</tspan></tspan><tspan dy="-3"> and </tspan><tspan font-style="italic" font-family="Liberation Serif,serif">β</tspan></text>
<rect x="1617" y="2460" width="66" height="57" fill="#fff" stroke="#000" stroke-width="2"/>
<line x1="1625" y1="2474" x2="1647" y2="2474" stroke="#0000ff" stroke-width="2"/><text x="1662" y="2479" font-size="14" font-style="italic" font-family="Liberation Serif,serif">β<tspan font-size="9" dy="3">p</tspan></text>
<line x1="1625" y1="2502" x2="1647" y2="2502" stroke="#008000" stroke-width="2"/><text x="1662" y="2507" font-size="14" font-style="italic" font-family="Liberation Serif,serif">β</text>
</g>

<!-- Density -->
<g transform="matrix(1,0,0,0.98953,0,10.69)">
<text class="t" x="900" y="2730">Proton Number Density</text>
<polyline class="ln" stroke="#0000ff" points="117,2867.3 1161,2867.3 1265.4,2869.9 1474.2,2871.2 1683,2876.9"/>
<rect class="sp" x="117" y="2740" width="1566" height="191"/>
<path class="tk" d="M639 2931v-8M1161 2931v-8M639 2740v8M1161 2740v8M117 2771.8h8M117 2803.7h8M117 2835.5h8M117 2867.3h8M117 2899.2h8M1683 2771.8h-8M1683 2803.7h-8M1683 2835.5h-8M1683 2867.3h-8M1683 2899.2h-8"/>
<g class="ts e"><text x="107" y="2745">30</text><text x="107" y="2777">25</text><text x="107" y="2809">20</text><text x="107" y="2841">15</text><text x="107" y="2872">10</text><text x="107" y="2904">5</text><text x="107" y="2936">0</text></g>
<g class="ts m"><text x="117" y="2953">03/28 06:27</text><text x="639" y="2953">03/28 06:32</text><text x="1161" y="2953">03/28 06:37</text><text x="1683" y="2953">03/28 06:42</text></g>
<text class="tl m" transform="translate(66,2835) rotate(-90)" dominant-baseline="central">Np(#/cc)</text>
</g>

<!-- Temperature -->
<g transform="matrix(1,0,0,0.98953,0,9.69)">
<text class="t" x="900" y="3017">Proton Temperature and <tspan font-style="italic" font-family="Liberation Serif,serif">T<tspan font-size="14" dy="4">e</tspan><tspan dy="-4">/T</tspan><tspan font-size="14" dy="4">p</tspan></tspan></text>
<polyline class="ln" stroke="#0000ff" points="117,3150.8 639,3163 1161,3163 1265.4,3159.9 1474.2,3150.8 1683,3158.4"/>
<polyline class="ln" stroke="#ff0000" points="117,3174.5 639,3165.3 1161,3166 1265.4,3166 1474.2,3176 1683,3168.3"/>
<rect class="sp" x="117" y="3027" width="1566" height="191"/>
<path class="tk" d="M639 3218v-8M1161 3218v-8M639 3027v8M1161 3027v8M117 3065.2h8M117 3103.4h8M117 3141.6h8M117 3179.8h8M1683 3065.2h-8M1683 3103.4h-8M1683 3141.6h-8M1683 3179.8h-8"/>
<g class="ts e"><text x="107" y="3032">0.5</text><text x="107" y="3070">0.4</text><text x="107" y="3109">0.3</text><text x="107" y="3147">0.2</text><text x="107" y="3185">0.1</text><text x="107" y="3223">0.0</text></g>
<g class="ts" fill="#ff0000"><text x="1692" y="3032">5</text><text x="1692" y="3070">4</text><text x="1692" y="3109">3</text><text x="1692" y="3147">2</text><text x="1692" y="3185">1</text><text x="1692" y="3223">0</text></g>
<g class="ts m"><text x="117" y="3240">03/28 06:27</text><text x="639" y="3240">03/28 06:32</text><text x="1161" y="3240">03/28 06:37</text><text x="1683" y="3240">03/28 06:42</text></g>
<text class="tl m" transform="translate(57,3122) rotate(-90)" dominant-baseline="central">Tp(10<tspan font-size="10" dy="-6">6</tspan><tspan dy="6">K)</tspan></text>
<text class="m" fill="#ff0000" font-size="16" font-style="italic" font-family="Liberation Serif,serif" transform="translate(1722,3125) rotate(-90)" dominant-baseline="central">T<tspan font-size="11" dy="3">e</tspan><tspan dy="-3">/T</tspan><tspan font-size="11" dy="3">p</tspan></text>
<rect x="123" y="3034" width="72" height="28" fill="#fff" stroke="#000" stroke-width="2"/>
<line x1="134" y1="3048" x2="156" y2="3048" stroke="#0000ff" stroke-width="2"/><text x="172" y="3053" font-size="14">Tp</text>
<rect x="1586" y="3035" width="90" height="32" fill="#fff" stroke="#000" stroke-width="2"/>
<line x1="1595" y1="3050" x2="1618" y2="3050" stroke="#ff0000" stroke-width="2"/><text x="1633" y="3055" font-size="15" font-style="italic" font-family="Liberation Serif,serif">T<tspan font-size="10" dy="3">e</tspan><tspan dy="-3">/T</tspan><tspan font-size="10" dy="3">p</tspan></text>
</g>
</svg>
</body></html>
